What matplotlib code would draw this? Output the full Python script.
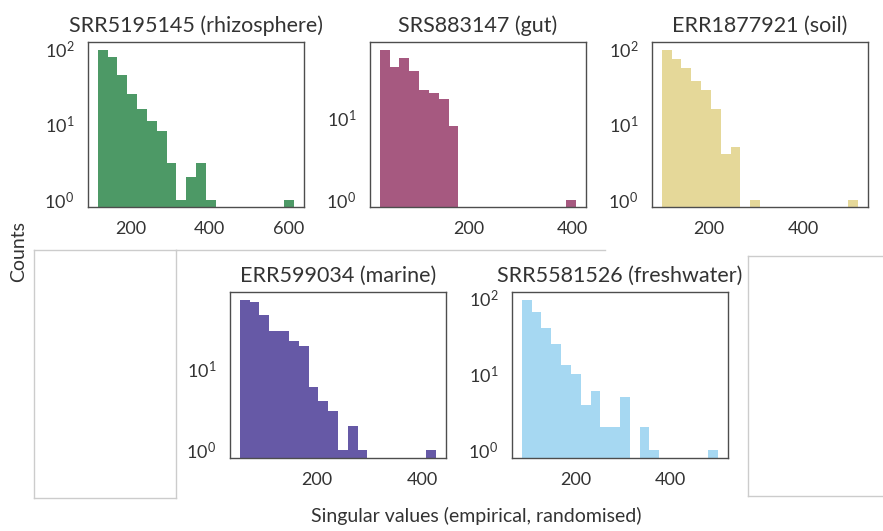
import numpy as np
import matplotlib
matplotlib.use('Agg')
import matplotlib.pyplot as plt
from matplotlib.lines import Line2D

plt.rcParams['font.family'] = ['Lato', 'DejaVu Sans']
plt.rcParams['mathtext.fontset'] = 'custom'
plt.rcParams['mathtext.rm'] = 'Lato'
plt.rcParams['text.color'] = '0.2'
plt.rcParams['xtick.color'] = '0.2'
plt.rcParams['ytick.color'] = '0.2'

# singular value histograms: 20 equal bins between the sample min/max
titles = ['SRR5195145 (rhizosphere)', 'SRS883147 (gut)', 'ERR1877921 (soil)',
          'ERR599034 (marine)', 'SRR5581526 (freshwater)']
ranges = [(118, 614), (29, 408), (100, 515), (55, 427), (87, 502)]
counts_rhizo = [97, 77, 45, 25, 16, 11, 8, 3, 1, 2, 3, 1, 0, 0, 0, 0, 0, 0, 0, 1]
counts_gut = [68, 42, 54, 37, 22, 20, 17, 8, 0, 0, 0, 0, 0, 0, 0, 0, 0, 0, 0, 1]
counts_soil = [98, 74, 55, 37, 28, 16, 4, 5, 0, 1, 0, 0, 0, 0, 0, 0, 0, 0, 0, 1]
counts_marine = [70, 65, 45, 29, 29, 22, 19, 6, 4, 3, 1, 2, 1, 0, 0, 0, 0, 0, 0, 1]
counts_fresh = [95, 66, 40, 25, 13, 10, 4, 6, 2, 2, 5, 0, 2, 1, 0, 0, 0, 0, 0, 1]
all_counts = [counts_rhizo, counts_gut, counts_soil, counts_marine, counts_fresh]
colors = ['#117733', '#882255', '#DDCC77', '#332288', '#88CCEE']

W, H = 883, 531
fig = plt.figure(figsize=(W / 100, H / 100), dpi=100)


def px_axes(x0, y0, x1, y1):
    return fig.add_axes([x0 / W, 1 - y1 / H, (x1 - x0) / W, (y1 - y0) / H])


# empty framed cells around the bottom row
for box in [(34, 250, 176, 498), (748, 256, 900, 496)]:
    bx = px_axes(*box)
    bx.set_xticks([])
    bx.set_yticks([])
    for s in bx.spines.values():
        s.set_color('#cccccc')
        s.set_linewidth(1.0)
fig.add_artist(Line2D([176 / W, 605 / W], [1 - 250 / H, 1 - 250 / H],
                      color='#cccccc', lw=1.0))

boxes = [(88, 42, 304, 207), (370, 42, 586, 207), (652, 42, 868, 207),
         (230, 292, 446, 458), (512, 292, 728, 458)]

for box, title, (lo, hi), counts, c in zip(boxes, titles, ranges, all_counts, colors):
    ax = px_axes(*box)
    edges = np.linspace(lo, hi, len(counts) + 1)
    centers = 0.5 * (edges[:-1] + edges[1:])
    ax.hist(centers, bins=edges, weights=counts, color=c, alpha=0.75, log=True)
    ax.set_title(title, fontsize=15.5, pad=7)
    ax.set_xticks([t for t in (200, 400, 600) if lo < t < hi + 30])
    ax.tick_params(length=0, labelsize=13, pad=10)
    for s in ax.spines.values():
        s.set_color('0.3')
        s.set_linewidth(1.0)
    ax.minorticks_off()

fig.text(19 / W, 1 - 251 / H, 'Counts', rotation=90, ha='center', va='center', fontsize=14)
fig.text(476 / W, 1 - 516 / H, 'Singular values (empirical, randomised)',
         ha='center', va='center', fontsize=14)

fig.savefig('out.png', dpi=100)
